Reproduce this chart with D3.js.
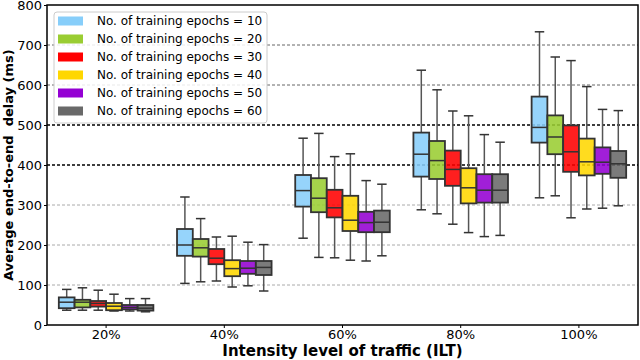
<!DOCTYPE html>
<html>
<head>
<meta charset="utf-8">
<script src="https://cdn.jsdelivr.net/npm/d3@7"></script>
<style>
  body { margin: 0; background: #fff; }
  svg { font-family: "DejaVu Sans", sans-serif; }
</style>
</head>
<body>
<svg id="chart" width="640" height="360"></svg>
<script>
// categories and series
const levels = ["20%", "40%", "60%", "80%", "100%"];
const epochs = [10, 20, 30, 40, 50, 60];
const colors = ["#87cefa", "#9acd32", "#ff0000", "#ffd700", "#9400d3", "#696969"];
const yTicks = [0, 100, 200, 300, 400, 500, 600, 700, 800];

// [whisker low, q1, median, q3, whisker high] per epoch setting, one array per traffic level
const stats20 = [[37, 42, 57, 69, 89], [37, 44, 57, 63, 93], [37, 46, 54, 60, 87],
                 [35, 37, 47, 55, 77], [35, 39, 44, 50, 66], [33, 36, 42, 50, 66]];
const stats40 = [[104, 173, 200, 240, 320], [108, 171, 193, 215, 266], [110, 152, 167, 190, 220],
                 [95, 122, 141, 162, 222], [98, 128, 142, 160, 207], [85, 125, 144, 160, 201]];
const stats60 = [[217, 296, 336, 375, 467], [169, 282, 317, 367, 479], [168, 269, 293, 338, 421],
                 [162, 235, 262, 323, 428], [160, 232, 256, 283, 361], [173, 232, 257, 286, 352]];
const stats80 = [[288, 371, 427, 481, 637], [278, 365, 411, 460, 588], [252, 348, 389, 436, 535],
                 [231, 304, 343, 392, 523], [221, 306, 337, 377, 476], [224, 306, 337, 377, 457]];
const stats100 = [[318, 456, 494, 571, 733], [323, 427, 470, 524, 670], [268, 383, 433, 499, 661],
                  [290, 374, 408, 466, 596], [292, 378, 407, 444, 539], [298, 368, 403, 435, 536]];
const allStats = [stats20, stats40, stats60, stats80, stats100];

const margin = {top: 5, right: 2, bottom: 35, left: 47};
const width = 640 - margin.left - margin.right;
const height = 360 - margin.top - margin.bottom;

const svg = d3.select("#chart");
const g = svg.append("g").attr("transform", `translate(${margin.left},${margin.top})`);

const x = d3.scaleBand().domain(levels).range([0, width]).padding(0);
const inner = d3.scaleBand().domain(epochs).range([0, x.bandwidth() * 0.8]).padding(0);
const y = d3.scaleLinear().domain([0, 800]).range([height, 0]);

// grid lines
g.selectAll(".grid").data(yTicks.slice(1, -1)).enter().append("line")
  .attr("x1", 0).attr("x2", width)
  .attr("y1", d => y(d)).attr("y2", d => y(d))
  .attr("stroke", d => (d === 400 || d === 500) ? "#000" : (d >= 600 ? "#666" : "#aaa"))
  .attr("stroke-width", d => (d === 400 || d === 500) ? 1.3 : 1)
  .attr("stroke-dasharray", "3,2");

// boxes
const rows = [];
allStats.forEach((grp, i) => grp.forEach((s, j) => rows.push({level: levels[i], ep: epochs[j], c: colors[j], s})));

const box = g.selectAll(".box").data(rows).enter().append("g")
  .attr("transform", d => `translate(${x(d.level) + x.bandwidth() * 0.1 + inner(d.ep)},0)`);
const bw = inner.bandwidth();
const cap = bw * 0.6;

box.append("line").attr("x1", bw / 2).attr("x2", bw / 2)
  .attr("y1", d => y(d.s[0])).attr("y2", d => y(d.s[1]))
  .attr("stroke", "#555").attr("stroke-width", 1.5);
box.append("line").attr("x1", bw / 2).attr("x2", bw / 2)
  .attr("y1", d => y(d.s[3])).attr("y2", d => y(d.s[4]))
  .attr("stroke", "#555").attr("stroke-width", 1.5);
box.append("line").attr("x1", (bw - cap) / 2).attr("x2", (bw + cap) / 2)
  .attr("y1", d => y(d.s[0])).attr("y2", d => y(d.s[0]))
  .attr("stroke", "#333").attr("stroke-width", 1.5);
box.append("line").attr("x1", (bw - cap) / 2).attr("x2", (bw + cap) / 2)
  .attr("y1", d => y(d.s[4])).attr("y2", d => y(d.s[4]))
  .attr("stroke", "#333").attr("stroke-width", 1.5);
box.append("rect").attr("x", 0).attr("width", bw)
  .attr("y", d => y(d.s[3])).attr("height", d => y(d.s[1]) - y(d.s[3]))
  .attr("fill", d => d.c).attr("fill-opacity", 0.88)
  .attr("stroke", "#333").attr("stroke-width", 1.8);
box.append("line").attr("x1", 0).attr("x2", bw)
  .attr("y1", d => y(d.s[2])).attr("y2", d => y(d.s[2]))
  .attr("stroke", "#333").attr("stroke-width", 1.5);

// axes
const xAxis = g.append("g").attr("transform", `translate(0,${height})`)
  .call(d3.axisBottom(x).tickSize(3).tickSizeOuter(0));
const yAxis = g.append("g")
  .call(d3.axisLeft(y).tickValues(yTicks).tickSize(3).tickSizeOuter(0));
[xAxis, yAxis].forEach(a => {
  a.select(".domain").remove();
  a.selectAll("text").attr("font-size", 13).attr("fill", "#000")
    .attr("font-family", "DejaVu Sans, sans-serif");
  a.selectAll("line").attr("stroke", "#000");
});
xAxis.selectAll("text").attr("y", 3).attr("dy", "0.85em");
yAxis.selectAll("text").attr("x", -5);

g.append("rect").attr("width", width).attr("height", height)
  .attr("fill", "none").attr("stroke", "#000").attr("stroke-width", 1.5);

// axis titles
svg.append("text").attr("x", margin.left + width / 2).attr("y", 356)
  .attr("text-anchor", "middle").attr("font-size", 15).attr("font-weight", "bold")
  .text("Intensity level of traffic (ILT)");
svg.append("text").attr("transform", `translate(13,${margin.top + height / 2}) rotate(-90)`)
  .attr("text-anchor", "middle").attr("font-size", 13).attr("font-weight", "bold")
  .attr("xml:space", "preserve")
  .text("Average end-to-end  delay (ms)");

// legend
const legend = g.append("g").attr("transform", "translate(7,7)");
legend.append("rect").attr("width", 213).attr("height", 111).attr("rx", 3)
  .attr("fill", "#fff").attr("fill-opacity", 0.85).attr("stroke", "#ccc");
const item = legend.selectAll(".item").data(epochs).enter().append("g")
  .attr("transform", (d, i) => `translate(4,${9 + i * 18})`);
item.append("rect").attr("x", 0).attr("y", -4.5).attr("width", 25).attr("height", 9)
  .attr("fill", (d, i) => colors[i]);
item.append("text").attr("x", 39).attr("y", 0).attr("dy", "0.36em")
  .attr("font-size", 12).text(d => `No. of training epochs = ${d}`);
</script>
</body>
</html>
